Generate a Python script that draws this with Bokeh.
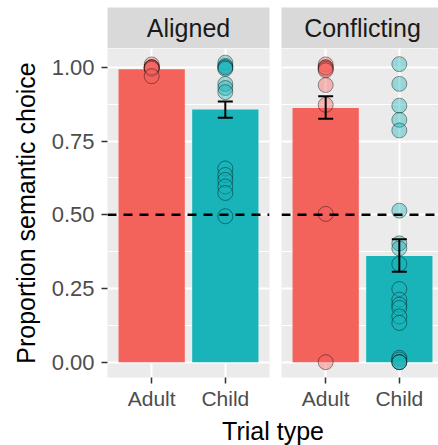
from bokeh.plotting import figure
from bokeh.models import Range1d, FixedTicker, Whisker, TeeHead, Span, ColumnDataSource
from bokeh.layouts import row, column
from bokeh.embed import file_html
from bokeh.resources import INLINE
from bokeh.core.properties import value

# ---------------- data ----------------
categories = ["Adult", "Child"]
facets = ["Aligned", "Conflicting"]

aligned_means = [0.994, 0.857]
aligned_lower = [float("nan"), 0.829]
aligned_upper = [float("nan"), 0.884]

conflicting_means = [0.862, 0.360]
conflicting_lower = [0.826, 0.307]
conflicting_upper = [0.902, 0.417]

aligned_adult_points = [1.01, 1.0, 1.0, 1.0, 1.0, 0.995, 0.97]
aligned_child_points = [1.016, 1.005, 1.0, 1.0, 0.995, 0.944, 0.93, 0.916,
                        0.657, 0.635, 0.618, 0.596, 0.574, 0.495]
conflicting_adult_points = [1.01, 1.0, 1.0, 0.995, 0.99, 0.94, 0.873, 0.503, 0.0]
conflicting_child_points = [1.011, 0.944, 0.870, 0.822, 0.786, 0.514, 0.403, 0.386,
                            0.333, 0.248, 0.212, 0.195, 0.184, 0.155, 0.133,
                            0.015, 0.009, 0.0, 0.0, 0.0]

y_ticks = [0.0, 0.25, 0.5, 0.75, 1.0]
y_minor_ticks = [0.125, 0.375, 0.625, 0.875]
chance_level = 0.5
y_limits = (-0.052, 1.064)

colors = ["#F4625C", "#19B4B9"]

facet_means = [aligned_means, conflicting_means]
facet_lower = [aligned_lower, conflicting_lower]
facet_upper = [aligned_upper, conflicting_upper]
facet_points = [[aligned_adult_points, aligned_child_points],
                [conflicting_adult_points, conflicting_child_points]]

# ---------------- layout constants ----------------
FONT = "Liberation Sans"
LEFT_BORDER = 107
GAP = 6
W1 = 275
W2 = 163
TOP_PAD = 7
STRIP_H = 41
PANEL_H = 364
BOTTOM_BORDER = 34
XLAB_H = 33

x_pos = [i + 1 for i in range(len(categories))]
x_lo = 0.4
x_hi = len(categories) + 0.6
frame1_w = W1 - LEFT_BORDER - GAP
frame2_w = W2 - GAP
px_per_unit = frame1_w / (x_hi - x_lo)
x_ranges = [Range1d(x_lo, x_hi), Range1d(x_lo, x_lo + frame2_w / px_per_unit)]


def panel(i):
    first = i == 0
    p = figure(width=W1 if first else W2, height=PANEL_H,
               x_range=x_ranges[i], y_range=Range1d(*y_limits),
               output_backend="svg", toolbar_location=None, title=None,
               y_axis_location="left" if first else None,
               min_border_left=LEFT_BORDER if first else GAP,
               min_border_right=GAP if first else 0,
               min_border_top=0, min_border_bottom=BOTTOM_BORDER)
    p.background_fill_color = "#EBEBEB"
    p.border_fill_color = "white"
    p.outline_line_color = None

    # grids
    p.xgrid.ticker = FixedTicker(ticks=x_pos)
    p.xgrid.grid_line_color = "white"
    p.xgrid.grid_line_width = 2
    p.ygrid.ticker = FixedTicker(ticks=y_ticks, minor_ticks=y_minor_ticks)
    p.ygrid.grid_line_color = "white"
    p.ygrid.grid_line_width = 2
    p.ygrid.minor_grid_line_color = "white"
    p.ygrid.minor_grid_line_width = 1

    # x axis
    xa = p.xaxis[0]
    xa.ticker = FixedTicker(ticks=x_pos)
    xa.major_label_overrides = {x: c for x, c in zip(x_pos, categories)}
    xa.axis_line_color = None
    xa.major_tick_line_color = "#333333"
    xa.major_tick_line_width = 1.5
    xa.major_tick_out = 6
    xa.major_tick_in = 0
    xa.minor_tick_line_color = None
    xa.major_label_text_font = FONT
    xa.major_label_text_font_size = "21px"
    xa.major_label_text_color = "#4D4D4D"
    xa.major_label_standoff = 3

    if first:
        ya = p.yaxis[0]
        ya.ticker = FixedTicker(ticks=y_ticks)
        ya.major_label_overrides = {t: f"{t:.2f}" for t in y_ticks}
        ya.axis_line_color = None
        ya.major_tick_line_color = "#333333"
        ya.major_tick_line_width = 1.5
        ya.major_tick_out = 6
        ya.major_tick_in = 0
        ya.minor_tick_line_color = None
        ya.major_label_text_font = FONT
        ya.major_label_text_font_size = "22px"
        ya.major_label_text_color = "#4D4D4D"
        ya.major_label_standoff = 7
        ya.axis_label = "Proportion semantic choice"
        ya.axis_label_text_font = FONT
        ya.axis_label_text_font_size = "25px"
        ya.axis_label_text_font_style = "normal"
        ya.axis_label_text_color = "black"
        ya.axis_label_standoff = 9

    bars = ColumnDataSource(dict(x=x_pos, mean=facet_means[i],
                                 lower=facet_lower[i], upper=facet_upper[i],
                                 color=colors))
    p.vbar(x="x", top="mean", bottom=0, width=0.9, fill_color="color",
           line_color=None, source=bars)

    for j, pts in enumerate(facet_points[i]):
        p.scatter(x=[x_pos[j]] * len(pts), y=pts, size=15,
                  fill_color=colors[j], fill_alpha=0.4,
                  line_color="black", line_alpha=0.4, line_width=1)

    wh = Whisker(base="x", lower="lower", upper="upper", source=bars,
                 line_color="black", line_width=2, level="annotation",
                 upper_head=TeeHead(size=15, line_color="black", line_width=2),
                 lower_head=TeeHead(size=15, line_color="black", line_width=2))
    p.add_layout(wh)
    p.add_layout(Span(location=chance_level, dimension="width",
                      line_color="black", line_width=2.5, line_dash="9 7"))
    return p


def strip(i):
    first = i == 0
    s = figure(width=W1 if first else W2, height=TOP_PAD + STRIP_H,
               x_range=x_ranges[i], y_range=Range1d(0, 1),
               output_backend="svg", toolbar_location=None, title=None,
               x_axis_location=None, y_axis_location=None,
               min_border_left=LEFT_BORDER if first else GAP,
               min_border_right=GAP if first else 0,
               min_border_top=TOP_PAD, min_border_bottom=0)
    s.background_fill_color = "#D9D9D9"
    s.border_fill_color = "white"
    s.outline_line_color = None
    s.grid.visible = False
    mid = (x_pos[0] + x_pos[-1]) / 2
    s.text(x=[mid], y=[0.5], text=[facets[i]], text_align="center",
           text_baseline="middle", text_font=value(FONT),
           text_font_size="25px", text_color="#1A1A1A")
    return s


xl = figure(width=W1 + W2, height=XLAB_H, x_range=Range1d(0, 1),
            y_range=Range1d(0, XLAB_H), output_backend="svg",
            toolbar_location=None, title=None,
            x_axis_location=None, y_axis_location=None,
            min_border_left=LEFT_BORDER, min_border_right=0,
            min_border_top=0, min_border_bottom=0)
xl.background_fill_color = "white"
xl.border_fill_color = "white"
xl.outline_line_color = None
xl.grid.visible = False
xl.text(x=[0.5], y=[XLAB_H / 2 - 2], text=["Trial type"], text_align="center",
        text_baseline="middle", text_font=value(FONT),
        text_font_size="25px", text_color="black")

layout = column(row(strip(0), strip(1)), row(panel(0), panel(1)), xl)

with open("out.html", "w") as f:
    f.write(file_html(layout, INLINE))
